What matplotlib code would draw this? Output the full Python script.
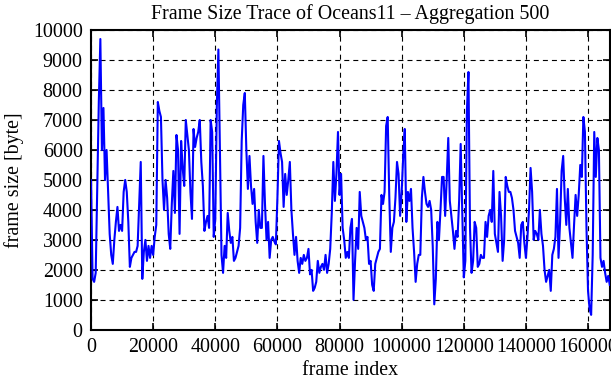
import numpy as np
import matplotlib
matplotlib.use("Agg")
import matplotlib.pyplot as plt

title = "Frame Size Trace of Oceans11 \u2013 Aggregation 500"
xlabel = "frame index"
ylabel = "frame size [byte]"
aggregation = 500
x_ticks = [0, 20000, 40000, 60000, 80000, 100000, 120000, 140000, 160000]
y_ticks = [0, 1000, 2000, 3000, 4000, 5000, 6000, 7000, 8000, 9000, 10000]

frame_size = [
    5000, 1700, 1600, 1900, 4800, 7600, 9700, 6000, 7400, 5000,
    6000, 4600, 3200, 2500, 2200, 3000, 3600, 4100, 3300, 3500,
    3300, 4600, 5000, 4600, 3600, 2100, 2400, 2500, 2600, 2600,
    2800, 4200, 5600, 1700, 2600, 3000, 2300, 2800, 2400, 2800,
    2500, 3100, 3500, 7600, 7300, 7100, 5000, 4000, 5000, 4400,
    3200, 2700, 4200, 5300, 3900, 6500, 6000, 3200, 6300, 5400,
    4800, 7000, 6500, 6000, 4600, 3700, 6700, 6100, 6400, 6600,
    7000, 5600, 4800, 3300, 3600, 3800, 3400, 7000, 6600, 3100,
    3700, 7500, 9350, 5800, 2500, 1900, 2800, 2400, 3900, 3300,
    2900, 3100, 2300, 2400, 2600, 2800, 3400, 6300, 7500, 7900,
    6000, 4700, 5800, 4800, 4200, 4700, 3600, 2900, 4000, 3400,
    3400, 5800, 4200, 3000, 3600, 2400, 3000, 3100, 2950, 2850,
    4400, 6300, 5900, 5600, 4100, 5200, 4500, 5000, 5600, 4000,
    3200, 2500, 3100, 2300, 1900, 2400, 2200, 2500, 2300, 2400,
    2700, 1850, 2000, 1300, 1400, 1600, 2300, 1900, 2100, 2200,
    2000, 2500, 1900, 2200, 2700, 3900, 5600, 4300, 5200, 6600,
    4500, 5200, 3400, 3000, 2400, 2600, 2400, 3400, 3700, 1000,
    2300, 3400, 2700, 4600, 3800, 3600, 3400, 3000, 3100, 2200,
    2300, 1500, 1300, 2200, 2400, 2600, 2700, 4500, 4200, 4600,
    6800, 7100, 4500, 2600, 3400, 3600, 4400, 5600, 5200, 3800,
    4600, 5800, 6700, 3600, 4600, 4300, 4700, 3400, 2600, 1600,
    2200, 2500, 2500, 4400, 5100, 4600, 4200, 4100, 4300, 4000,
    2800, 850, 1700, 3600, 3000, 4000, 5100, 5100, 3800, 5000,
    6400, 4300, 3800, 3300, 2700, 3300, 3100, 4300, 6200, 4000,
    1750, 2300, 7300, 8600, 3400, 1900, 2300, 3600, 3400, 2100,
    2200, 2500, 2400, 2400, 3600, 3100, 3800, 4000, 3600, 5300,
    3200, 2900, 2600, 4600, 3800, 2300, 3000, 5100, 4800, 4600,
    4600, 4400, 4000, 3300, 3100, 2900, 2400, 3500, 3600, 2900,
    2400, 3100, 4000, 5400, 4600, 3000, 3300, 3200, 3000, 4000,
    3200, 2800, 2000, 1600, 1800, 2000, 1300, 2500, 2700, 3100,
    4700, 2400, 3600, 5300, 5800, 4400, 3500, 4700, 3400, 2900,
    2400, 3500, 4500, 3800, 4500, 5500, 5100, 7100, 6600, 3400,
    1300, 700, 500, 2500, 6600, 5100, 6400, 6000, 2400, 2100,
    2300, 1900, 1600, 1800, 1500,
]
frame_index = np.arange(len(frame_size)) * aggregation

plt.rcParams['font.family'] = ['Liberation Serif', 'DejaVu Serif']
plt.rcParams['lines.scale_dashes'] = False

fig = plt.figure(figsize=(6.11, 3.80), dpi=100)
ax = fig.add_axes([0.149, 0.132, 0.998 - 0.149, 0.921 - 0.132])

ax.plot(frame_index, frame_size, color=(0, 0, 1), lw=1.5, zorder=3)

ax.set_xlim(0, 167000)
ax.set_ylim(0, 10000)
ax.set_xticks(x_ticks)
ax.set_yticks(y_ticks)
ax.set_xticklabels([str(v) for v in x_ticks])
ax.set_yticklabels([str(v) for v in y_ticks])

ax.grid(True, color='black', lw=0.8, linestyle=(0, (3.6, 2.9)), zorder=1)
ax.tick_params(direction='in', length=5, width=1.2, top=True, right=True,
               labelsize=14.4, pad=6, colors='black')
for s in ax.spines.values():
    s.set_linewidth(1.5)
    s.set_color('black')

ax.set_title(title, fontsize=14.4, pad=8)
ax.set_xlabel(xlabel, fontsize=14.4, labelpad=3)
ax.set_ylabel(ylabel, fontsize=14.4, labelpad=6)

fig.savefig("out.png", dpi=100)
